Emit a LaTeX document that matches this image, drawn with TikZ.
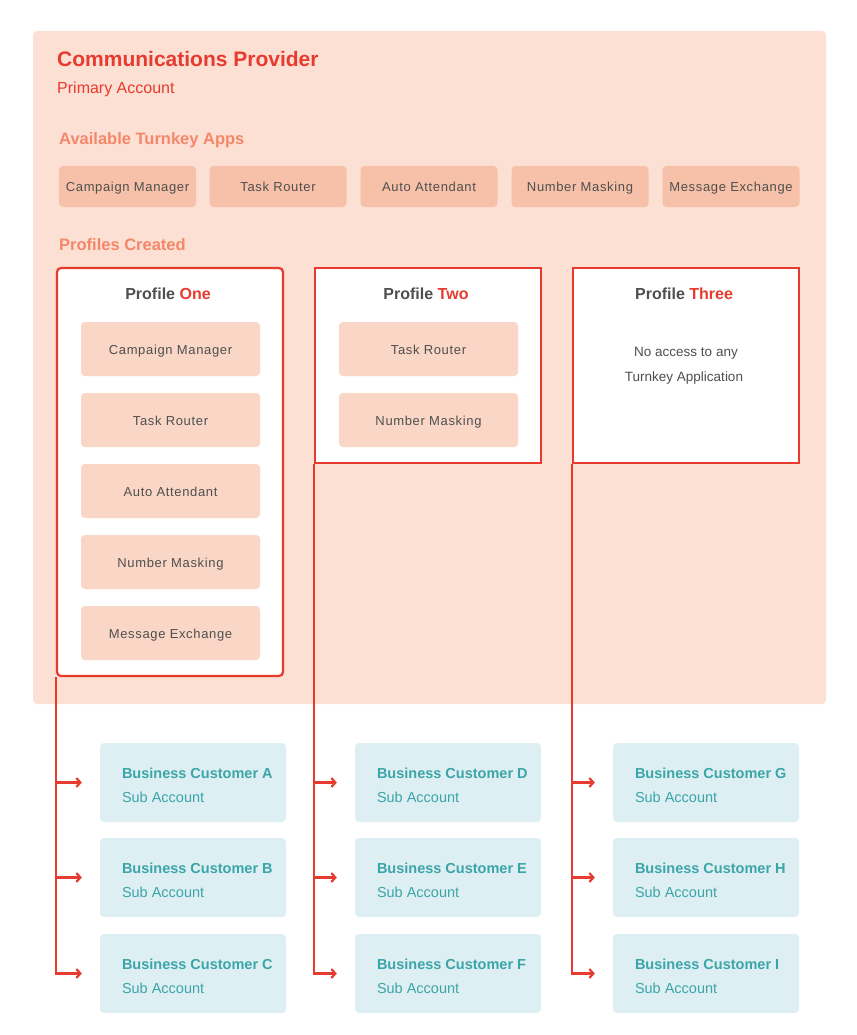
\documentclass[tikz,border=0pt]{standalone}
\usepackage{fontspec}
\setmainfont{Liberation Sans}
\newfontfamily\spacedfont[LetterSpace=5]{Liberation Sans}
\usetikzlibrary{arrows.meta}
\definecolor{provred}{HTML}{E63B2E}
\definecolor{salmon}{HTML}{F4876A}
\definecolor{peachbg}{HTML}{FCE0D3}
\definecolor{appfill}{HTML}{F7C0A8}
\definecolor{innerfill}{HTML}{F9D6C5}
\definecolor{custfill}{HTML}{DDEFF2}
\definecolor{tealtext}{HTML}{3BA5A8}
\definecolor{greytext}{HTML}{4F4F4F}
\tikzset{
  appbox/.style={fill=appfill, rounded corners=4pt, minimum width=137pt, minimum height=41pt,
    inner sep=0pt, text height=9pt, text depth=0pt,
    font=\spacedfont\fontsize{13}{15}\selectfont, text=greytext},
  innerbox/.style={fill=innerfill, rounded corners=4pt, minimum width=179pt, minimum height=54pt,
    inner sep=0pt, text height=10pt, text depth=0pt,
    font=\spacedfont\fontsize{13}{15}\selectfont, text=greytext},
  profbox/.style={draw=provred, line width=2.2pt, fill=white, inner sep=0pt},
  proftitle/.style={anchor=base, inner sep=0pt, font=\bfseries\fontsize{16}{18}\selectfont, text=greytext},
  custbox/.style={fill=custfill, rounded corners=4pt, minimum width=186pt, minimum height=79pt, inner sep=0pt},
  custname/.style={anchor=base west, inner sep=0pt, text=tealtext, font=\bfseries\fontsize{14.5}{17}\selectfont},
  custsub/.style={anchor=base west, inner sep=0pt, text=tealtext, font=\fontsize{14.5}{17}\selectfont},
  heading/.style={anchor=base west, inner sep=0pt, font=\bfseries\fontsize{16.5}{18}\selectfont, text=salmon},
  link/.style={draw=provred, line width=2.2pt, -{Straight Barb[length=4pt,width=9pt,line width=2.2pt]},
    shorten >=18pt}
}
\begin{document}
\begin{tikzpicture}[x=1pt,y=-1pt]
\useasboundingbox (0,0) rectangle (856,1035);
\fill[white] (0,0) rectangle (856,1035);

% provider panel
\fill[peachbg, rounded corners=4pt] (33,31) rectangle (826,704);
\node[anchor=base west, inner sep=0pt, text=provred, font=\bfseries\fontsize{21}{24}\selectfont] (title) at (57,67) {Communications Provider};
\node[anchor=base west, inner sep=0pt, text=provred, font=\fontsize{16}{18}\selectfont] (primary) at (57,94) {Primary Account};
\node[heading] (avail) at (59,144.5) {Available Turnkey Apps};

% available apps
\node[appbox] (a1) at (127.5,186.5) {Campaign Manager};
\node[appbox] (a2) at (278,186.5) {Task Router};
\node[appbox] (a3) at (429,186.5) {Auto Attendant};
\node[appbox] (a4) at (580,186.5) {Number Masking};
\node[appbox] (a5) at (731,186.5) {Message Exchange};

\node[heading] (profs) at (59,250.5) {Profiles Created};

% profiles
\node[profbox, rounded corners=4pt, minimum width=226pt, minimum height=408pt] (p1) at (170,472) {};
\node[profbox, minimum width=226pt, minimum height=195pt] (p2) at (428,365.5) {};
\node[profbox, minimum width=226pt, minimum height=195pt] (p3) at (686,365.5) {};

\node[proftitle] (t1) at (168,299.5) {Profile \textcolor{provred}{One}};
\node[proftitle] (t2) at (426,299.5) {Profile \textcolor{provred}{Two}};
\node[proftitle] (t3) at (684,299.5) {Profile \textcolor{provred}{Three}};

\node[innerbox] (p1a) at (170.5,349) {Campaign Manager};
\node[innerbox] (p1b) at (170.5,420) {Task Router};
\node[innerbox] (p1c) at (170.5,491) {Auto Attendant};
\node[innerbox] (p1d) at (170.5,562) {Number Masking};
\node[innerbox] (p1e) at (170.5,633) {Message Exchange};

\node[innerbox] (p2a) at (428.5,349) {Task Router};
\node[innerbox] (p2b) at (428.5,420) {Number Masking};

\node[anchor=base, inner sep=0pt, text=greytext, font=\fontsize{13.5}{16}\selectfont] (p3a) at (686,356) {No access to any};
\node[anchor=base, inner sep=0pt, text=greytext, font=\fontsize{13.5}{16}\selectfont] (p3b) at (684,381) {Turnkey Application};

% sub accounts
\foreach \n/\x/\y/\l in {cA/193/782.5/A, cB/193/877.5/B, cC/193/973.5/C,
                         cD/448/782.5/D, cE/448/877.5/E, cF/448/973.5/F,
                         cG/706/782.5/G, cH/706/877.5/H, cI/706/973.5/I}{
  \node[custbox] (\n) at (\x,\y) {};
  \node[custname] (\n n) at ([xshift=22pt,yshift=4.5pt]\n.west) {Business Customer \l};
  \node[custsub] (\n s) at ([xshift=22pt,yshift=-19.5pt]\n.west) {Sub Account};
}

% connectors
\foreach \p/\a/\b/\c in {p1/cA/cB/cC, p2/cD/cE/cF, p3/cG/cH/cI}{
  \draw[link] (\p.south west) |- (\c.west);
  \draw[link] (\p.south west) |- (\b.west);
  \draw[link] (\p.south west) |- (\a.west);
}
\end{tikzpicture}
\end{document}
